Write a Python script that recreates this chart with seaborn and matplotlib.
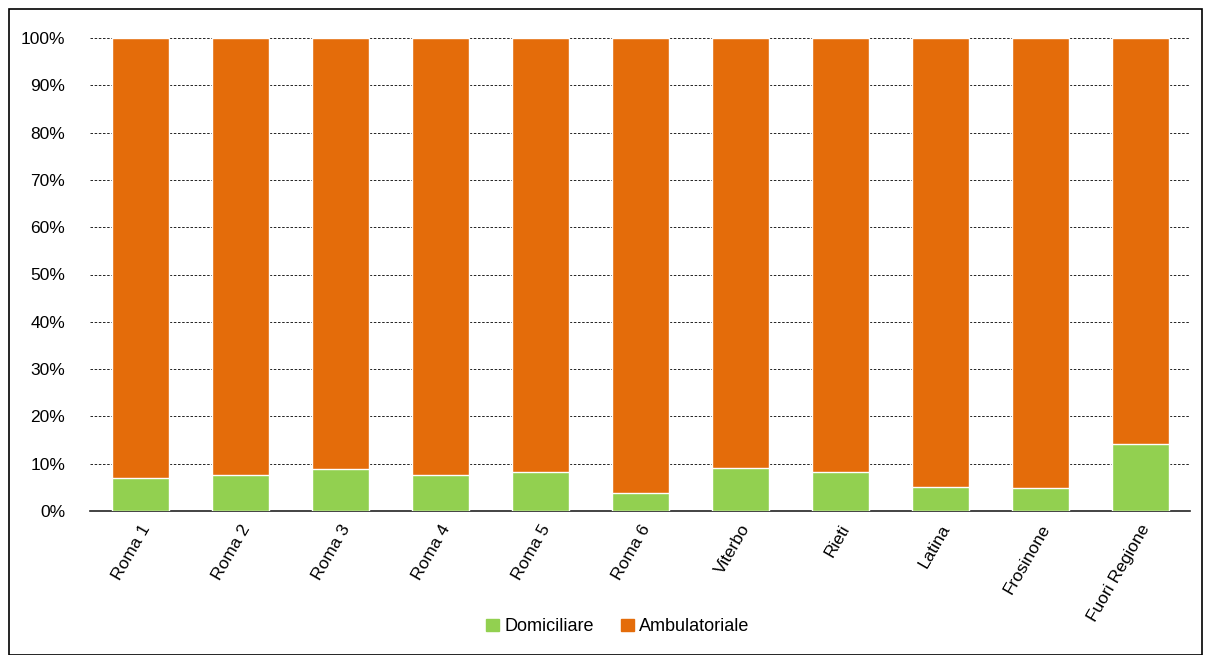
import numpy as np
import pandas as pd
import matplotlib
matplotlib.use("Agg")
import matplotlib.pyplot as plt
import seaborn as sns
from matplotlib.patches import Patch, Rectangle
from matplotlib.ticker import PercentFormatter

# Data (% of total)
categorie = ["Roma 1", "Roma 2", "Roma 3", "Roma 4", "Roma 5", "Roma 6",
             "Viterbo", "Rieti", "Latina", "Frosinone", "Fuori Regione"]
domiciliare = [7.0, 7.6, 8.9, 7.7, 8.2, 3.7, 9.1, 8.2, 5.1, 4.8, 14.1]
ambulatoriale = [100 - d for d in domiciliare]

df = pd.DataFrame({"ASL": categorie, "Domiciliare": domiciliare,
                   "Ambulatoriale": ambulatoriale})
df["Totale"] = df["Domiciliare"] + df["Ambulatoriale"]

verde = "#92d050"
arancio = "#e46c0a"

sns.set_style("white")
plt.rcParams["font.family"] = ["Liberation Sans", "DejaVu Sans"]
plt.rcParams["text.color"] = "black"
plt.rcParams["xtick.color"] = "black"
plt.rcParams["ytick.color"] = "black"

fig = plt.figure(figsize=(12.07, 6.55), dpi=100)
ax = fig.add_axes([90 / 1207, 1 - 511 / 655, 1100 / 1207, 473 / 655])

sns.barplot(data=df, x="ASL", y="Totale", color=arancio, width=0.57,
            saturation=1, ax=ax, zorder=2)
sns.barplot(data=df, x="ASL", y="Domiciliare", color=verde, width=0.57,
            saturation=1, ax=ax, zorder=3)

ax.set_ylim(0, 100)
ax.set_xlim(-0.5, len(categorie) - 0.5)
ax.set_yticks(np.arange(0, 101, 10))
ax.yaxis.set_major_formatter(PercentFormatter(decimals=0))
ax.grid(axis="y", color="black", linestyle=(0, (3, 2)), linewidth=0.6, zorder=0)
ax.set_axisbelow(True)
for s in ["top", "right", "left"]:
    ax.spines[s].set_visible(False)
ax.spines["bottom"].set_color("#222222")
ax.spines["bottom"].set_linewidth(1.2)
ax.set_xlabel("")
ax.set_ylabel("")
ax.tick_params(axis="y", labelsize=12.5, length=0, pad=18)
ax.tick_params(axis="x", labelsize=12.5, length=0, pad=8)
plt.setp(ax.get_xticklabels(), rotation=60, ha="right", rotation_mode="anchor")

handles = [Patch(color=verde, label="Domiciliare"),
           Patch(color=arancio, label="Ambulatoriale")]
fig.legend(handles=handles, loc="center", bbox_to_anchor=(0.512, 0.043), ncol=2,
           frameon=False, fontsize=13, handlelength=0.7, handleheight=0.7,
           handletextpad=0.3, columnspacing=1.5)

fig.patches.append(Rectangle((9 / 1207, 0), 1193 / 1207, 1 - 9 / 655,
                             transform=fig.transFigure, fill=False,
                             edgecolor="black", linewidth=1.2))

fig.savefig("out.png", dpi=100)
